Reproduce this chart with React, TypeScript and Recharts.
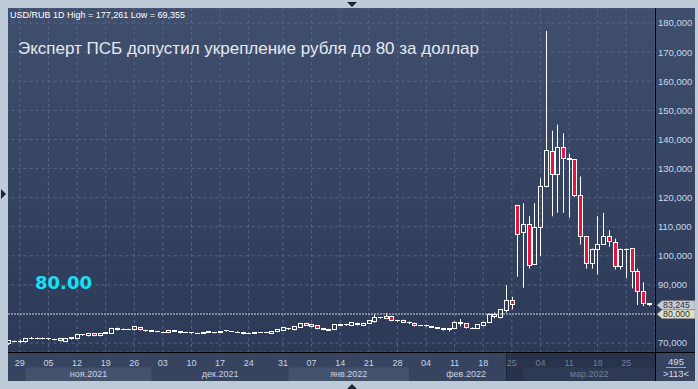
import React from "react";
import { ComposedChart, Bar, XAxis, YAxis, CartesianGrid, ReferenceLine } from "recharts";

// USD/RUB, daily candles, 27.10.2021 - 31.03.2022
const OPEN = [
  69.8, 70.55, 70.55, 70.4, 71.65, 71.5, 71.6, 71.5, 71.3, 71.45,
  70.7, 71.4, 71.55, 72.8, 72.5, 73.2, 72.5, 73.4, 73.4, 75.1,
  74.7, 74.8, 74.5, 75.4, 74.3, 74.15, 74.0, 73.8, 73.6, 74.0,
  74.05, 73.6, 73.75, 73.4, 73.4, 73.8, 73.7, 73.8, 74.15, 74.0,
  73.75, 73.7, 73.35, 73.3, 73.55, 73.5, 73.4, 73.85, 74.4, 74.85,
  74.5, 75.4, 76.8, 76.35, 75.9, 74.85, 74.6, 74.75, 76.2, 76.25,
  76.12, 76.8, 76.12, 76.8, 77.37, 78.7, 78.5, 79.2, 77.7, 77.83,
  77.0, 76.8, 76.0, 76.0, 75.66, 75.3, 74.9, 74.85, 75.0, 77.15,
  76.6, 75.1, 75.1, 76.0, 77.15, 79.66, 78.74, 81.1, 84.6, 117.2,
  108.0, 110.8, 97.0, 109.7, 123.9, 135.8, 127.8, 137.2, 133.0, 133.0,
  120.8, 106.6, 97.4, 102.2, 103.9, 106.6, 104.6, 96.2, 102.1, 102.4,
  94.5, 87.6, 83.7,
];
const HIGH = [
  71.0, 70.9, 71.1, 71.8, 72.1, 71.9, 71.9, 71.8, 71.5, 71.6,
  71.6, 71.9, 73.0, 73.1, 73.5, 73.4, 73.5, 73.8, 75.2, 75.3,
  75.0, 74.9, 75.9, 75.6, 74.6, 74.4, 74.2, 73.9, 74.5, 74.4,
  74.2, 73.8, 73.8, 73.6, 73.8, 74.1, 73.8, 74.1, 74.45, 74.1,
  74.0, 73.8, 73.6, 73.8, 73.7, 73.8, 74.1, 74.8, 75.5, 75.2,
  75.8, 77.0, 77.0, 76.6, 76.0, 75.0, 74.9, 76.5, 76.6, 76.6,
  77.2, 77.0, 77.0, 77.8, 79.8, 79.0, 80.3, 79.4, 78.0, 78.0,
  77.4, 77.0, 76.2, 76.3, 75.8, 75.4, 75.0, 75.0, 77.5, 78.2,
  76.8, 75.4, 76.4, 77.3, 80.2, 80.5, 81.5, 89.9, 85.9, 117.5,
  118.1, 113.6, 118.1, 126.6, 177.261, 143.0, 145.1, 142.1, 135.1, 133.2,
  127.3, 106.7, 102.5, 113.6, 114.8, 108.8, 105.9, 102.5, 102.5, 102.5,
  95.6, 90.9, 83.8,
];
const LOW = [
  69.355, 70.3, 69.95, 70.2, 71.3, 71.3, 71.3, 71.1, 70.9, 70.6,
  70.5, 71.2, 71.3, 72.5, 72.3, 72.3, 72.3, 73.2, 73.2, 74.3,
  74.5, 74.5, 74.3, 74.3, 73.9, 73.9, 73.7, 73.5, 73.4, 73.8,
  73.3, 73.5, 73.2, 73.1, 73.2, 73.5, 73.3, 73.6, 73.9, 73.8,
  73.5, 73.0, 73.1, 73.2, 73.5, 73.4, 73.3, 73.7, 74.2, 74.5,
  74.3, 75.3, 75.9, 75.4, 74.7, 74.4, 74.2, 74.5, 75.9, 75.9,
  76.0, 76.0, 75.9, 76.6, 77.0, 78.4, 78.3, 77.5, 77.3, 77.0,
  76.5, 75.7, 75.8, 75.6, 75.3, 74.8, 74.3, 74.0, 74.8, 75.7,
  75.0, 74.9, 74.9, 75.8, 77.0, 78.5, 78.5, 80.5, 81.6, 92.8,
  89.0, 95.6, 96.8, 99.9, 123.5, 113.6, 114.8, 114.8, 113.1, 120.2,
  103.9, 95.6, 95.6, 93.6, 103.9, 103.1, 95.3, 95.3, 92.4, 88.8,
  83.1, 82.7, 82.7,
];
const CLOSE = [
  70.8, 70.7, 70.6, 71.4, 71.7, 71.7, 71.55, 71.45, 71.1, 70.75,
  71.45, 71.75, 72.8, 72.9, 73.3, 72.5, 73.3, 73.6, 75.1, 74.5,
  74.8, 74.7, 75.65, 74.5, 74.25, 74.1, 73.95, 73.7, 74.4, 74.2,
  73.5, 73.7, 73.7, 73.35, 73.7, 73.85, 73.6, 74.0, 74.2, 73.9,
  73.7, 73.15, 73.4, 73.7, 73.6, 73.7, 74.05, 74.6, 75.2, 74.9,
  75.65, 76.8, 76.1, 75.65, 74.85, 74.6, 74.4, 76.35, 76.25, 76.3,
  77.03, 76.23, 76.8, 77.6, 78.63, 78.75, 79.3, 77.7, 77.65, 77.15,
  77.05, 75.9, 76.05, 75.95, 75.43, 75.0, 74.8, 74.8, 77.15, 76.6,
  75.2, 75.15, 76.23, 77.15, 79.66, 78.97, 81.37, 84.6, 83.3, 107.3,
  110.8, 96.5, 109.7, 123.8, 136.2, 127.8, 137.2, 133.3, 133.5, 120.8,
  106.8, 97.4, 102.3, 103.9, 106.6, 104.8, 96.2, 102.2, 102.3, 94.5,
  87.6, 83.7, 83.245,
];

const DAY_TICKS = [2, 7, 12, 17, 22, 27, 32, 37, 42, 48, 53, 58, 63, 68, 73, 78, 83, 88, 93, 98, 103, 108];
const DAY_LABELS = ["29", "05", "12", "19", "26", "03", "10", "17", "24", "31", "07", "14", "21", "28", "04", "11", "18", "25", "04", "11", "18", "25"];
const MONTH_STARTS = [3, 25, 49, 70, 90];
const MONTH_LABELS = ["ноя.2021", "дек.2021", "янв.2022", "фев.2022", "мар.2022"];
const Y_TICKS = [70, 90, 100, 110, 120, 130, 140, 150, 160, 170, 180];
const TARGET = 80;
const TOTAL_BARS = 495;
const HIGHLIGHT_FROM = 87;

const N = OPEN.length;
const data = OPEN.map((open, i) => ({
  i,
  open,
  high: HIGH[i],
  low: LOW[i],
  close: CLOSE[i],
  range: [LOW[i], HIGH[i]],
}));
const lastClose = CLOSE[N - 1];

const W = 698;
const H = 389;
const PLOT_L = 5.54;
const PLOT_R = 655;
const PAD_R = 3;
const BAND = (PLOT_R - PAD_R - PLOT_L) / N;
const FONT = "'Liberation Sans', Arial, sans-serif";
const UP = "#ffffff";
const DOWN = "#e3163d";

const fmt = (v: number) => v.toFixed(3).replace(".", ",");

function Candle(props: any) {
  const { x, y, width, height, payload } = props;
  if (x == null || !payload) return null;
  const { open, close, high, low } = payload;
  const top = Math.min(y, y + height);
  const bot = Math.max(y, y + height);
  const span = high - low;
  const toY = (v: number) => (span > 0 ? top + ((high - v) / span) * (bot - top) : top);
  const cx = Math.floor(x + width / 2) + 0.5;
  const yT = Math.floor(toY(Math.max(open, close))) + 0.5;
  const yB = Math.floor(toY(Math.min(open, close))) + 0.5;
  const up = close >= open;
  return (
    <g>
      <line x1={cx} x2={cx} y1={toY(high)} y2={yT} stroke={UP} strokeWidth={1} />
      <line x1={cx} x2={cx} y1={yB} y2={toY(low)} stroke={UP} strokeWidth={1} />
      {yB - yT < 1 ? (
        <line x1={cx - 2.5} x2={cx + 2.5} y1={yT} y2={yT} stroke={UP} strokeWidth={1} />
      ) : (
        <rect x={cx - 2} y={yT} width={4} height={yB - yT} fill={up ? "none" : DOWN} stroke={UP} strokeWidth={1} />
      )}
    </g>
  );
}

function DayTick(props: any) {
  const { x, y, payload } = props;
  const idx = payload.value;
  const k = DAY_TICKS.indexOf(idx);
  const firstDim = DAY_TICKS.find((t) => t > HIGHLIGHT_FROM);
  const dim = idx > HIGHLIGHT_FROM;
  const hx = x - (idx - HIGHLIGHT_FROM) * BAND;
  return (
    <g>
      {idx === firstDim && (
        <g>
          <rect x={hx} y={y + 1} width={PLOT_R - hx} height={29} fill="#28334b" />
          <line x1={Math.floor(hx) + 0.5} x2={Math.floor(hx) + 0.5} y1={y + 1} y2={y + 30} stroke="#1d2537" />
        </g>
      )}
      <text x={x} y={y + 13.5} textAnchor="middle" fill={dim ? "#707e98" : "#c9d3e4"} fontSize={9} fontFamily={FONT}>
        {DAY_LABELS[k]}
      </text>
    </g>
  );
}

function MonthTick(props: any) {
  const { x, y, payload } = props;
  const start = payload.value;
  const k = MONTH_STARTS.indexOf(start);
  const next = k + 1 < MONTH_STARTS.length ? MONTH_STARTS[k + 1] : N;
  const w = (next - start) * BAND;
  const dim = start > HIGHLIGHT_FROM;
  const alt = k % 2 === 0;
  return (
    <g>
      {alt && <rect x={x} y={y + 0.5} width={w} height={14} fill={dim ? "#2e3a54" : "#44526e"} />}
      <text x={x + w / 2} y={y + 9.8} textAnchor="middle" fill={dim ? "#707e98" : "#c9d3e4"} fontSize={9} fontFamily={FONT}>
        {MONTH_LABELS[k]}
      </text>
    </g>
  );
}

function PriceTick(props: any) {
  const { x, y, payload } = props;
  return (
    <text x={x + 3} y={y} dy="0.35em" fill="#cad6ea" fontSize={9.5} fontFamily={FONT}>
      {fmt(payload.value)}
    </text>
  );
}

function PriceTag(props: any) {
  const { viewBox, value, fill, shift = 0 } = props;
  if (!viewBox) return null;
  const x0 = viewBox.x + viewBox.width + 2;
  const yc = viewBox.y + shift;
  const h = 4.4;
  const d = `M${x0} ${yc} L${x0 + 5} ${yc - h} L${x0 + 38} ${yc - h} L${x0 + 38} ${yc + h} L${x0 + 5} ${yc + h} Z`;
  return (
    <g>
      <path d={d} fill={fill} stroke="#8d8f94" strokeWidth={0.6} />
      <text x={x0 + 6} y={yc} dy="0.36em" fill="#2a2d33" fontSize={8.8} fontFamily={FONT}>
        {fmt(value)}
      </text>
    </g>
  );
}

export default function App() {
  return (
    <div style={{ position: "absolute", left: 0, top: 0, width: W, height: H, background: "#bfcad9", overflow: "hidden" }}>
      <div
        style={{
          position: "absolute",
          left: 8,
          top: 8,
          width: 687,
          height: 373,
          overflow: "hidden",
          background: "linear-gradient(#404f6e 0px, #2c3957 344px, #36445f 344px, #36445f 373px)",
        }}
      >
        <div style={{ position: "absolute", left: -8, top: -8 }}>
          <ComposedChart
            width={W}
            height={H}
            data={data}
            margin={{ top: 8, right: 3, bottom: 6, left: PLOT_L }}
          >
            <CartesianGrid stroke="#55648a" strokeDasharray="3 3" strokeWidth={1} />
            <XAxis
              dataKey="i"
              type="category"
              ticks={DAY_TICKS}
              interval={0}
              tick={<DayTick />}
              tickSize={0}
              tickMargin={0}
              axisLine={false}
              tickLine={false}
              height={15}
              padding={{ left: 0, right: PAD_R }}
            />
            <XAxis
              xAxisId="m"
              dataKey="i"
              type="category"
              ticks={MONTH_STARTS}
              interval={0}
              tick={<MonthTick />}
              tickSize={0}
              tickMargin={0}
              axisLine={false}
              tickLine={false}
              height={16}
              padding={{ left: 0, right: PAD_R }}
            />
            <YAxis
              orientation="right"
              type="number"
              domain={[66.93, 185.2]}
              ticks={Y_TICKS}
              allowDataOverflow
              width={40}
              tick={<PriceTick />}
              tickSize={0}
              tickMargin={0}
              axisLine={false}
              tickLine={false}
              interval={0}
            />
            <Bar dataKey="range" shape={<Candle />} isAnimationActive={false} barCategoryGap={0} />
            <ReferenceLine
              y={TARGET}
              stroke="#d3d9e3"
              strokeDasharray="2 1"
              label={<PriceTag value={TARGET} fill="#e3e2c3" shift={0.2} />}
            />
            <ReferenceLine
              y={lastClose}
              stroke="none"
              strokeOpacity={0}
              label={<PriceTag value={lastClose} fill="#c9ccd4" shift={0.6} />}
            />
          </ComposedChart>
        </div>
      </div>
      <svg width={W} height={H} style={{ position: "absolute", left: 0, top: 0, pointerEvents: "none" }}>
        <line x1={655.5} y1={8} x2={655.5} y2={381} stroke="#000" />
        <line x1={8} y1={352.5} x2={695} y2={352.5} stroke="#000" />
        <text x={10} y={18} fill="#ffffff" fontSize={9} fontFamily={FONT}>
          {`USD/RUB 1D High = ${fmt(Math.max(...HIGH))} Low = ${fmt(Math.min(...LOW))}`}
        </text>
        <text x={18} y={53.5} fill="#e4e8ee" fontSize={17} fontFamily={FONT}>
          Эксперт ПСБ допустил укрепление рубля до 80 за доллар
        </text>
        <text x={35} y={288.5} fill="#10e4f6" fontSize={18} fontWeight="bold" fontFamily="'DejaVu Sans', sans-serif">
          {TARGET.toFixed(2)}
        </text>
        <text x={676} y={364.5} textAnchor="middle" fill="#d4dcea" fontSize={9.5} fontFamily={FONT}>
          {TOTAL_BARS}
        </text>
        <line x1={666} y1={367.5} x2={686} y2={367.5} stroke="#9aa6ba" />
        <text x={676} y={377} textAnchor="middle" fill="#d4dcea" fontSize={9.5} fontFamily={FONT}>
          {`>${N}<`}
        </text>
        <path d="M347 2 L357 2 L352 7 Z" fill="#1b2335" />
        <path d="M1 189 L1 199 L6 194 Z" fill="#1b2335" />
        <path d="M347 389 L357 389 L352 384 Z" fill="#1b2335" />
      </svg>
    </div>
  );
}
